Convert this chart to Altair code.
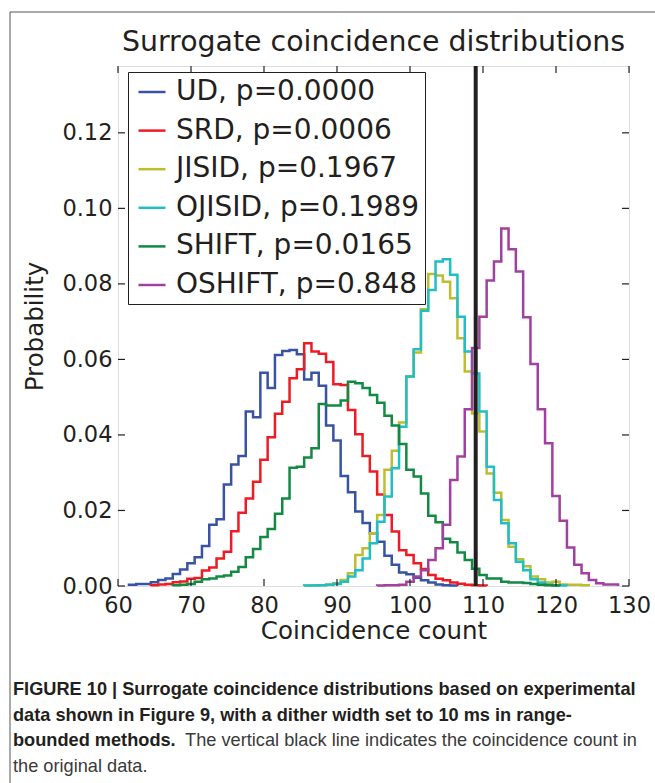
import altair as alt
import pandas as pd

# ---------------- data ----------------
series_names = ["UD", "SRD", "JISID", "OJISID", "SHIFT", "OSHIFT"]
series_labels = ["UD, p=0.0000", "SRD, p=0.0006", "JISID, p=0.1967",
                 "OJISID, p=0.1989", "SHIFT, p=0.0165", "OSHIFT, p=0.848"]
series_colors = ["#3953a4", "#ed1c24", "#bdbd2f", "#20bfc6", "#138a43", "#a040a0"]

# first bin (coincidence count) of each histogram; bins are 1 count wide
ud_start = 62
ud_prob = [0.0003, 0.0005, 0.0005, 0.0010, 0.0016, 0.0020, 0.0032, 0.0044, 0.0060,
           0.0076, 0.0106, 0.0162, 0.0177, 0.0269, 0.0322, 0.0344, 0.0462, 0.0447,
           0.0565, 0.0524, 0.0612, 0.0622, 0.0625, 0.0614, 0.0547, 0.0565, 0.0530,
           0.0425, 0.0385, 0.0291, 0.0248, 0.0197, 0.0167, 0.0140, 0.0117, 0.0080,
           0.0056, 0.0036, 0.0031, 0.0022, 0.0015, 0.0009, 0.0004, 0.0002, 0.0001]

srd_start = 65
srd_prob = [0.0002, 0.0004, 0.0005, 0.0010, 0.0012, 0.0019, 0.0021, 0.0041, 0.0049,
            0.0073, 0.0091, 0.0145, 0.0194, 0.0232, 0.0276, 0.0334, 0.0394, 0.0456,
            0.0488, 0.0550, 0.0574, 0.0643, 0.0621, 0.0615, 0.0593, 0.0534, 0.0532,
            0.0466, 0.0402, 0.0344, 0.0303, 0.0242, 0.0188, 0.0144, 0.0095, 0.0082,
            0.0060, 0.0045, 0.0029, 0.0019, 0.0015, 0.0009, 0.0006, 0.0003, 0.0002,
            0.0001]

jisid_start = 86
jisid_prob = [0.0001, 0.0002, 0.0002, 0.0004, 0.0007, 0.0016, 0.0034, 0.0082, 0.0100,
              0.0140, 0.0188, 0.0308, 0.0358, 0.0433, 0.0555, 0.0618, 0.0733, 0.0826,
              0.0822, 0.0806, 0.0762, 0.0656, 0.0568, 0.0457, 0.0409, 0.0298, 0.0247,
              0.0175, 0.0104, 0.0071, 0.0052, 0.0025, 0.0018, 0.0009, 0.0011, 0.0004,
              0.0003, 0.0003, 0.0002]

ojisid_start = 86
ojisid_prob = [0.0001, 0.0001, 0.0002, 0.0003, 0.0005, 0.0011, 0.0025, 0.0042, 0.0073,
               0.0113, 0.0170, 0.0237, 0.0312, 0.0422, 0.0555, 0.0627, 0.0729, 0.0784,
               0.0859, 0.0865, 0.0824, 0.0713, 0.0621, 0.0563, 0.0462, 0.0316, 0.0228,
               0.0166, 0.0113, 0.0064, 0.0042, 0.0018, 0.0009, 0.0004, 0.0002, 0.0001]

shift_start = 68
shift_prob = [0.0002, 0.0003, 0.0005, 0.0011, 0.0018, 0.0020, 0.0025, 0.0028, 0.0038,
              0.0050, 0.0076, 0.0098, 0.0130, 0.0151, 0.0191, 0.0232, 0.0313, 0.0316,
              0.0340, 0.0365, 0.0482, 0.0478, 0.0478, 0.0491, 0.0541, 0.0537, 0.0524,
              0.0506, 0.0485, 0.0451, 0.0425, 0.0376, 0.0308, 0.0290, 0.0245, 0.0186,
              0.0169, 0.0125, 0.0116, 0.0089, 0.0069, 0.0046, 0.0029, 0.0020, 0.0020,
              0.0011, 0.0009, 0.0009, 0.0008, 0.0005, 0.0003, 0.0002, 0.0001]

oshift_start = 96
oshift_prob = [0.0001, 0.0002, 0.0002, 0.0003, 0.0011, 0.0025, 0.0042, 0.0069, 0.0100,
               0.0162, 0.0281, 0.0343, 0.0468, 0.0630, 0.0713, 0.0809, 0.0859, 0.0947,
               0.0892, 0.0833, 0.0712, 0.0588, 0.0468, 0.0378, 0.0238, 0.0173, 0.0102,
               0.0056, 0.0034, 0.0016, 0.0007, 0.0004, 0.0004]

series_starts = [ud_start, srd_start, jisid_start, ojisid_start, shift_start, oshift_start]
series_probs = [ud_prob, srd_prob, jisid_prob, ojisid_prob, shift_prob, oshift_prob]

original_count = [109]
x_ticks = [60, 70, 80, 90, 100, 110, 120, 130]
y_ticks = [0.00, 0.02, 0.04, 0.06, 0.08, 0.10, 0.12]
x_domain = [60, 130]
y_domain = [0, 0.1377]

title_text = "Surrogate coincidence distributions"
caption_bold = ["FIGURE 10 | Surrogate coincidence distributions based on experimental",
                "data shown in Figure 9, with a dither width set to 10 ms in range-",
                "bounded methods."]
caption_regular = ["The vertical black line indicates the coincidence count in",
                   "the original data."]

# ---------------- layout ----------------
W, H = 511, 520
PAD_L, PAD_T = 118, 66
FIG_W, FIG_H = 655, 783
FONT = "DejaVu Sans"
INK = "#231f20"
CAP_FONT = "Liberation Sans"
CAP_SIZE = 18.2


def step_table(label, start, probs):
    rows = []
    order = 0
    rows.append({"label": label, "x": start - 0.5, "p": 0.0, "i": order})
    for k, p in enumerate(probs):
        left = start + k - 0.5
        order += 1
        rows.append({"label": label, "x": left, "p": p, "i": order})
        order += 1
        rows.append({"label": label, "x": left + 1, "p": p, "i": order})
    order += 1
    rows.append({"label": label, "x": start + len(probs) - 0.5, "p": 0.0, "i": order})
    return pd.DataFrame(rows)


color_scale = alt.Scale(domain=series_labels, range=series_colors)
legend = alt.Legend(title=None, orient="none", legendX=10, legendY=6,
                    symbolType="stroke", symbolSize=729, symbolStrokeWidth=2.5,
                    labelFontSize=28, labelFont=FONT, labelColor=INK,
                    labelOffset=9, symbolOffset=4, padding=5, rowPadding=9.6,
                    strokeColor=INK, fillColor="white", labelLimit=400)

x_enc = alt.X("x:Q", scale=alt.Scale(domain=x_domain, nice=False, zero=False),
              axis=alt.Axis(values=x_ticks, format="d", ticks=False, tickSize=0,
                            domain=False, grid=False, labelFontSize=22.5,
                            labelFont=FONT, labelColor=INK, labelPadding=8,
                            labelFlush=False,
                            title="Coincidence count", titleFontSize=24.5,
                            titleFont=FONT, titleFontWeight="normal",
                            titleColor=INK, titlePadding=3))
y_enc = alt.Y("p:Q", scale=alt.Scale(domain=y_domain, nice=False, zero=True),
              axis=alt.Axis(values=y_ticks, format=".2f", ticks=False, tickSize=0,
                            domain=False, grid=False, labelFontSize=22.5,
                            labelFont=FONT, labelColor=INK, labelPadding=6,
                            labelFlush=False,
                            title="Probability", titleFontSize=24.5,
                            titleFont=FONT, titleFontWeight="normal",
                            titleColor=INK, titlePadding=14))

layers = []
for lab, st, pr in zip(series_labels, series_starts, series_probs):
    df = step_table(lab, st, pr)
    layers.append(
        alt.Chart(df).mark_line(strokeWidth=2.5, interpolate="linear").encode(
            x=x_enc, y=y_enc,
            color=alt.Color("label:N", scale=color_scale, legend=legend),
            order="i:Q",
        )
    )

vline = alt.Chart(pd.DataFrame({"x": original_count})).mark_rule(
    color=INK, strokeWidth=4).encode(x=alt.X("x:Q"))

xt = pd.DataFrame({"x": x_ticks})
yt = pd.DataFrame({"p": y_ticks})
tick_style = dict(color=INK, strokeWidth=1.2)
ticks_bottom = alt.Chart(xt).mark_rule(**tick_style).encode(
    x="x:Q", y=alt.value(H), y2=alt.value(H - 7))
ticks_top = alt.Chart(xt).mark_rule(**tick_style).encode(
    x="x:Q", y=alt.value(0), y2=alt.value(7))
ticks_left = alt.Chart(yt).mark_rule(**tick_style).encode(
    y="p:Q", x=alt.value(0), x2=alt.value(7))
ticks_right = alt.Chart(yt).mark_rule(**tick_style).encode(
    y="p:Q", x=alt.value(W - 7), x2=alt.value(W))

one = pd.DataFrame({"a": [0]})

# outer figure frame (top and left borders of the journal panel)
frame_top = alt.Chart(one).mark_rule(color="#555555", strokeWidth=1).encode(
    x=alt.value(10 - PAD_L), x2=alt.value(FIG_W - PAD_L), y=alt.value(12 - PAD_T))
frame_left = alt.Chart(one).mark_rule(color="#555555", strokeWidth=1).encode(
    x=alt.value(10 - PAD_L), y=alt.value(12 - PAD_T), y2=alt.value(FIG_H - PAD_T))

# plot title
title_mark = alt.Chart(one).mark_text(
    text=title_text, font=FONT, fontSize=28.4, color=INK,
    align="center", baseline="alphabetic").encode(
    x=alt.value(W / 2), y=alt.value(51 - PAD_T))

# caption
cap_left = 13 - PAD_L
cap_right = 637 - PAD_L
cap_y = [690 - PAD_T, 716 - PAD_T, 741 - PAD_T, 767 - PAD_T]
cap_layers = []
for k, txt in enumerate(caption_bold):
    cap_layers.append(
        alt.Chart(one).mark_text(
            text=txt, font=CAP_FONT, fontSize=CAP_SIZE, fontWeight="bold", color=INK,
            align="left", baseline="middle").encode(
            x=alt.value(cap_left), y=alt.value(cap_y[k])))
cap_layers.append(
    alt.Chart(one).mark_text(
        text=caption_regular[0], font=CAP_FONT, fontSize=CAP_SIZE, color="#3a3a3a",
        align="right", baseline="middle").encode(
        x=alt.value(cap_right), y=alt.value(cap_y[2])))
cap_layers.append(
    alt.Chart(one).mark_text(
        text=caption_regular[1], font=CAP_FONT, fontSize=CAP_SIZE, color="#3a3a3a",
        align="left", baseline="middle").encode(
        x=alt.value(cap_left), y=alt.value(cap_y[3])))

chart = alt.layer(
    *layers, vline, ticks_bottom, ticks_top, ticks_left, ticks_right,
    frame_top, frame_left, title_mark, *cap_layers
).properties(
    width=W, height=H,
    padding={"left": PAD_L, "top": PAD_T, "right": FIG_W - PAD_L - W,
             "bottom": FIG_H - PAD_T - H},
    autosize=alt.AutoSizeParams(type="none"),
).configure_view(stroke=INK, strokeWidth=2).configure(background="white")

chart.save("out.html", embed_options={"renderer": "svg", "actions": False})
